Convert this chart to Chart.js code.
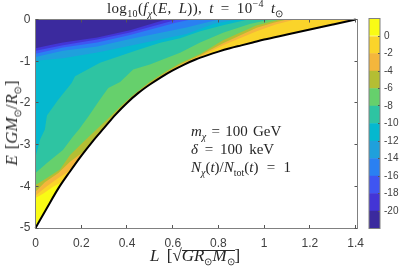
<!DOCTYPE html>
<html>
<head>
<meta charset="utf-8">
<script src="https://cdn.jsdelivr.net/npm/chart.js@4"></script>
<style>
  html, body { margin: 0; padding: 0; background: #fff; }
  #wrap { position: relative; width: 399px; height: 267px; overflow: hidden; }
  canvas { position: absolute; top: 0; }
  .tex { position: absolute; font-family: "Liberation Serif", serif; font-size: 15px; color: #262626; white-space: nowrap; line-height: 16px; word-spacing: 1.5px; }
  .tex i { font-style: italic; }
  .tex sub, .tex sup { font-size: 10px; line-height: 0; }
  .root { position: relative; }
  .root::after { content: ''; position: absolute; left: 0; right: 0; top: 4px; border-top: 1px solid #262626; }
</style>
</head>
<body>
<div id="wrap">
  <canvas id="mainChart" width="399" height="267" style="left:0;width:399px;height:267px"></canvas>
  <canvas id="barChart" width="39" height="267" style="left:360px;width:39px;height:267px"></canvas>
  <div class="tex" style="left:107px;top:0px;word-spacing:3px;letter-spacing:0.35px">log<sub>10</sub>(<i>f<sub>χ</sub></i>(<i>E</i>, <i>L</i>)), <i>t</i> = 10<sup>−4</sup> <i>t</i><sub>⊙</sub></div>
  <div class="tex" style="left:191px;top:123px"><i>m<sub>χ</sub></i> = 100 GeV</div>
  <div class="tex" style="left:191px;top:141px;word-spacing:3px"><i>δ</i> = 100 keV</div>
  <div class="tex" style="left:191px;top:159px;word-spacing:4.5px"><i>N<sub>χ</sub></i>(<i>t</i>)/<i>N</i><sub>tot</sub>(<i>t</i>) = 1</div>
  <div class="tex" style="left:150px;top:248px;font-size:17px;word-spacing:3px"><i>L</i> [√<span class="root"><i>GR</i><sub>⊙</sub><i>M</i><sub>⊙</sub></span>]</div>
  <div class="tex" style="left:12px;top:123px;font-size:17px;transform:translate(-50%,-50%) rotate(-90deg)"><i>E</i> [<i>GM</i><sub>⊙</sub>/<i>R</i><sub>⊙</sub>]</div>
</div>
<script>
// tick labels
const xTicks = [0, 0.2, 0.4, 0.6, 0.8, 1, 1.2, 1.4];
const yTicks = [-5, -4, -3, -2, -1, 0];
const barTicks = [-20, -18, -16, -14, -12, -10, -8, -6, -4, -2, 0];

// colorbar bands, bottom to top
const bandEdges = [-22, -20, -18, -16, -14, -12, -10, -8, -6, -4, -2, 0, 2];
const bandColors = ['#3b2a9e', '#4335d6', '#3f55f2', '#2a80f2', '#1fa0dc', '#05b8cf',
  '#2ec4a2', '#66d06c', '#b4be33', '#f4b63c', '#fad42a', '#f9fb15'];

// [L, E] edge of the allowed region
const boundary = [[0, -5], [0.05, -4.52], [0.1, -4.05], [0.15, -3.65], [0.2, -3.27], [0.25, -2.92], [0.3, -2.6], [0.35, -2.28],
  [0.4, -2.0], [0.45, -1.76], [0.5, -1.56], [0.55, -1.38], [0.6, -1.22], [0.65, -1.08], [0.7, -0.96], [0.75, -0.86], [0.8, -0.77],
  [0.85, -0.69], [0.9, -0.62], [0.95, -0.55], [1.0, -0.48], [1.1, -0.36], [1.2, -0.24], [1.3, -0.12], [1.4, 0]];

// [L, E] contour lines, each one fills up to E = 0
const level0 = [[0, -4.28], [0.033, -4.18], [0.077, -4.01], [0.115, -3.9]].concat(boundary.filter(p => p[0] > 0.12));
const levelM2 = [[0, -4.22], [0.05, -4.0], [0.1, -3.8], [0.142, -3.65], [0.2, -3.25], [0.25, -2.9], [0.3, -2.58], [0.35, -2.26], [0.4, -1.98], [0.45, -1.74],
  [0.5, -1.54], [0.575, -1.28], [0.632, -1.1], [0.72, -0.89], [0.82, -0.62], [0.967, -0.28], [1.05, -0.12], [1.135, 0]];
const levelM4 = [[0, -4.13], [0.041, -3.9], [0.1, -3.68], [0.151, -3.41], [0.21, -3.17], [0.25, -2.89], [0.3, -2.56], [0.35, -2.24], [0.4, -1.96], [0.45, -1.72],
  [0.5, -1.52], [0.575, -1.26], [0.632, -1.08], [0.72, -0.86], [0.82, -0.57], [0.967, -0.2], [1.04, -0.08], [1.1, 0]];
const levelM6 = [[0, -3.97], [0.05, -3.8], [0.107, -3.6], [0.151, -3.25], [0.21, -2.93], [0.27, -2.62], [0.32, -2.36], [0.37, -2.09], [0.427, -1.81],
  [0.5, -1.49], [0.575, -1.23], [0.632, -1.05], [0.72, -0.83], [0.82, -0.5], [0.967, -0.14], [1.07, 0]];
const levelM8 = [[0, -3.68], [0.05, -3.44], [0.12, -3.13], [0.165, -2.8], [0.19, -2.64], [0.232, -2.32], [0.282, -1.92], [0.318, -1.64], [0.37, -1.5],
  [0.427, -1.2], [0.5, -1.08], [0.632, -0.8], [0.72, -0.55], [0.82, -0.32], [0.94, -0.1], [1.03, 0]];
const levelM10 = [[0, -3.3], [0.02, -2.88], [0.041, -2.64], [0.05, -2.3], [0.1, -1.92], [0.158, -1.52], [0.173, -1.36], [0.282, -1.04],
  [0.443, -0.74], [0.545, -0.56], [0.632, -0.45], [0.72, -0.28], [0.82, -0.14], [0.93, 0]];
const levelM12 = [[0, -0.99], [0.12, -0.93], [0.27, -0.79], [0.413, -0.63], [0.66, -0.35], [0.78, -0.1], [0.88, 0]];
const levelM14 = [[0, -0.9], [0.12, -0.75], [0.27, -0.65], [0.413, -0.47], [0.66, -0.19], [0.8, 0]];
const levelM16 = [[0, -0.82], [0.12, -0.67], [0.27, -0.55], [0.413, -0.37], [0.617, -0.07], [0.68, 0]];
const levelM18 = [[0, -0.75], [0.12, -0.62], [0.27, -0.48], [0.413, -0.31], [0.62, 0]];
const levelM20 = [[0, -0.69], [0.06, -0.62], [0.12, -0.55], [0.27, -0.43], [0.413, -0.26], [0.57, 0]];
// small orange patch at the tip
const tipPatch = [[1.32, 0], [1.36, -0.035], [1.395, -0.005]];

const contours = [boundary, level0, levelM2, levelM4, levelM6, levelM8, levelM10, levelM12, levelM14, levelM16, levelM18, levelM20];
const contourColors = bandColors.slice().reverse();

const toXY = pts => pts.map(p => ({ x: p[0], y: p[1] }));
const frameColor = '#808080';
const labelColor = '#404040';
const tickFont = { family: '"Liberation Sans", Arial, sans-serif', size: 12 };

function area(pts, color) {
  return { data: toXY(pts), fill: 'end', backgroundColor: color, borderWidth: 0, pointRadius: 0, tension: 0 };
}

// first dataset is painted last, so the black curve goes first
const datasets = [
  { data: toXY(boundary), fill: false, borderColor: '#000', borderWidth: 2, pointRadius: 0, cubicInterpolationMode: 'monotone', clip: false },
  area(tipPatch, bandColors[9])
];
for (let i = contours.length - 1; i >= 0; i--) {
  datasets.push(area(contours[i], contourColors[i]));
}

function tickAxis(pos, list, showLabels, afterFit) {
  const s = {
    type: 'linear',
    position: pos,
    border: { color: frameColor, z: 1 },
    grid: { drawOnChartArea: false, tickLength: -3, color: '#555', z: 1 },
    afterBuildTicks: a => { a.ticks = list.map(v => ({ value: v })); },
    afterFit: afterFit,
    ticks: { display: showLabels, color: labelColor, font: tickFont, maxRotation: 0, autoSkip: false, callback: v => String(v) }
  };
  return s;
}

const xMax = 1.408;
const scaleX = tickAxis('bottom', xTicks, true, a => { a.height = 39; });
scaleX.min = 0; scaleX.max = xMax; scaleX.ticks.padding = 11;
const scaleXTop = tickAxis('top', xTicks, false, a => { a.height = 19.5; });
scaleXTop.min = 0; scaleXTop.max = xMax; scaleXTop.axis = 'x';
const scaleY = tickAxis('left', yTicks, true, a => { a.width = 35.5; });
scaleY.min = -5; scaleY.max = 0; scaleY.ticks.padding = 8;
const scaleYRight = tickAxis('right', yTicks, false, a => { a.width = 41.5; });
scaleYRight.min = -5; scaleYRight.max = 0; scaleYRight.axis = 'y';

new Chart(document.getElementById('mainChart'), {
  type: 'line',
  data: { datasets },
  options: {
    responsive: false,
    animation: false,
    layout: { padding: 0 },
    plugins: { legend: { display: false }, tooltip: { enabled: false } },
    scales: { x: scaleX, xTop: scaleXTop, y: scaleY, yRight: scaleYRight }
  }
});

// colorbar
const frame = {
  id: 'frame',
  afterDraw(chart) {
    const { ctx, chartArea: a } = chart;
    ctx.save();
    ctx.strokeStyle = frameColor;
    ctx.strokeRect(a.left, a.top, a.right - a.left, a.bottom - a.top);
    ctx.restore();
  }
};

new Chart(document.getElementById('barChart'), {
  type: 'bar',
  data: {
    labels: [''],
    datasets: bandColors.map((c, i) => ({
      data: [[bandEdges[i], bandEdges[i + 1]]],
      backgroundColor: c,
      barPercentage: 1,
      categoryPercentage: 1,
      grouped: false
    }))
  },
  options: {
    responsive: false,
    animation: false,
    layout: { padding: { left: 9, top: 18.5, bottom: 38.5, right: 0 } },
    plugins: { legend: { display: false }, tooltip: { enabled: false } },
    scales: {
      x: { display: false },
      y: {
        position: 'right',
        min: -22,
        max: 2,
        border: { display: false },
        grid: { drawOnChartArea: false, tickLength: -2, color: '#555', z: 1 },
        afterBuildTicks: a => { a.ticks = barTicks.map(v => ({ value: v })); },
        afterFit: a => { a.width = 19; },
        ticks: { color: labelColor, font: { family: tickFont.family, size: 10 }, padding: 6, callback: v => String(v) }
      }
    }
  },
  plugins: [frame]
});
</script>
</body>
</html>
